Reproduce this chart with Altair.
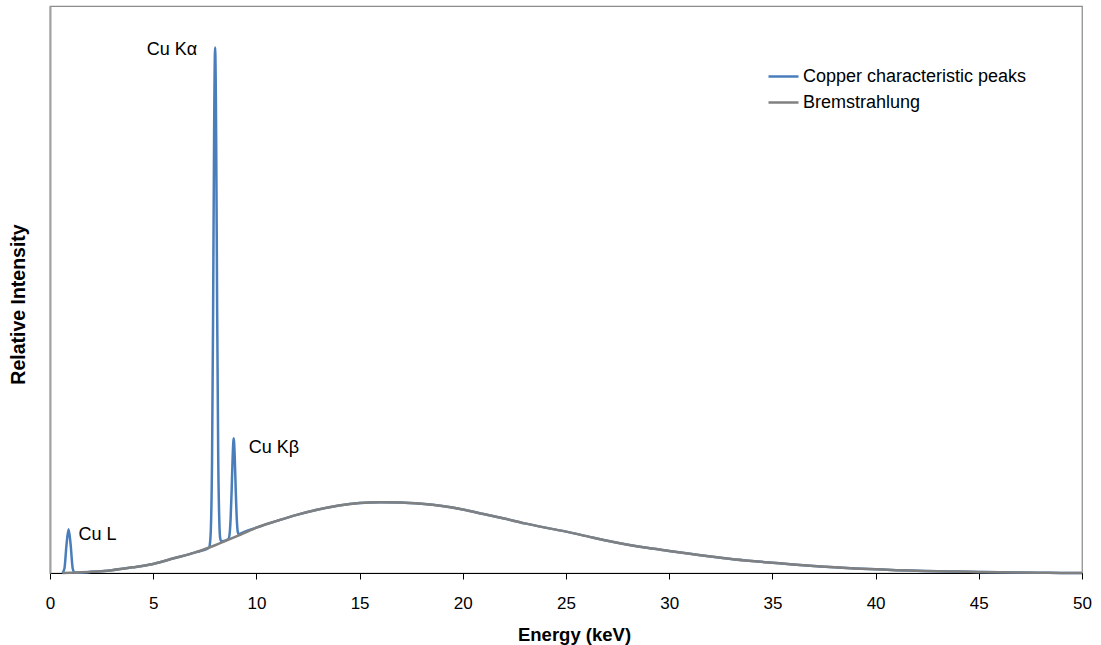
import altair as alt
import pandas as pd

# Bremsstrahlung continuum (energy keV, relative intensity)
brems_energy = [0.6, 1, 2, 3, 4, 5, 6, 7, 8, 9, 10, 11, 12, 13, 14, 15, 16, 17, 18, 19, 20,
                21, 22, 23, 24, 25, 26, 27, 28, 29, 30, 31, 32, 33, 34, 35, 36, 37, 38, 39, 40,
                41, 42, 43, 44, 45, 46, 47, 48, 49, 50]
brems_value = [0, 0.05, 0.2, 0.5, 1.0, 1.6, 2.6, 3.6, 4.9, 6.4, 8.0, 9.2, 10.3, 11.2, 11.9, 12.35,
               12.5, 12.45, 12.2, 11.8, 11.2, 10.4, 9.6, 8.75, 8.0, 7.3, 6.5, 5.7, 5.0, 4.4, 3.9,
               3.4, 2.9, 2.45, 2.1, 1.8, 1.5, 1.25, 1.0, 0.8, 0.65, 0.5, 0.4, 0.3, 0.25, 0.18,
               0.12, 0.08, 0.05, 0.02, 0]

# Copper characteristic peaks (total intensity, sitting on the continuum)
peak_energy = [0.6, 0.7, 0.8, 0.9, 1.0, 1.1, 1.2,
               7.70, 7.75, 7.80, 7.85, 7.90, 7.95, 8.00, 8.05, 8.10, 8.15, 8.20, 8.25, 8.30,
               8.60, 8.65, 8.70, 8.75, 8.80, 8.85, 8.90, 8.95, 9.00, 9.05, 9.10, 9.15, 9.20]
peak_value = [0, 0.8, 5.0, 7.7, 5.0, 0.8, 0.03,
              4.45, 5.2, 8.5, 19.5, 44.5, 77.0, 92.7, 77.5, 45.5, 20.5, 9.5, 6.0, 5.6,
              5.9, 6.0, 6.8, 9.5, 14.5, 20.5, 23.75, 20.5, 14.5, 9.5, 7.2, 6.8, 6.9]

# Annotations: label, anchor energy, anchor intensity
label_text = ["Cu L", "Cu K\u03b1", "Cu K\u03b2"]
label_energy = [0.9, 8.0, 8.9]
label_value = [7.7, 92.7, 23.75]

x_ticks = [0, 5, 10, 15, 20, 25, 30, 35, 40, 45, 50]

series_names = ["Copper characteristic peaks", "Bremstrahlung"]
series_colors = ["#4A7EBB", "#808080"]

# Build tables
peak_ranges = [(0.55, 1.25), (7.65, 8.35), (8.55, 9.25)]
blue_rows = [(e, v) for e, v in zip(peak_energy, peak_value)]
for e, v in zip(brems_energy, brems_value):
    if not any(lo <= e <= hi for lo, hi in peak_ranges):
        blue_rows.append((e, v))
blue_rows.sort()
df_blue = pd.DataFrame(blue_rows, columns=["energy", "value"])
df_blue["series"] = series_names[0]
df_gray = pd.DataFrame({"energy": brems_energy, "value": brems_value})
df_gray["series"] = series_names[1]
df = pd.concat([df_blue, df_gray], ignore_index=True)

font = "Liberation Sans"

x = alt.X("energy:Q", scale=alt.Scale(domain=[0, 50], nice=False),
          axis=alt.Axis(values=x_ticks, title="Energy (keV)", grid=False,
                        domainColor="#000000", domainWidth=1, tickColor="#000000",
                        tickSize=6, labelPadding=16, labelFontSize=17, labelFont=font,
                        labelColor="#000000", titleFont=font, titleFontSize=18.5,
                        titleFontWeight="bold", titleColor="#000000", titlePadding=14,
                        titleX=524, labelFlush=False))
y = alt.Y("value:Q", scale=alt.Scale(domain=[0, 100], nice=False),
          axis=alt.Axis(labels=False, ticks=False, grid=False, title="Relative Intensity",
                        domainColor="#A0A0A0", domainWidth=2, titleFont=font,
                        titleFontSize=19.5, titleFontWeight="bold", titleColor="#000000",
                        titlePadding=22, titleY=298))

lines = alt.Chart(df).mark_line(strokeWidth=2.5, interpolate="monotone").encode(
    x=x,
    y=y,
    color=alt.Color("series:N", scale=alt.Scale(domain=series_names, range=series_colors),
                    legend=alt.Legend(title=None, orient="none", legendX=717, legendY=54,
                                      symbolType="stroke", symbolSize=900,
                                      symbolStrokeWidth=2.5, labelFont=font,
                                      labelFontSize=18, labelColor="#000000",
                                      labelOffset=3, rowPadding=-3, labelLimit=0)),
    detail="series:N",
    order=alt.Order("energy:Q"),
)

df_lab = pd.DataFrame({"label": label_text, "energy": label_energy, "value": label_value})

lab_L = alt.Chart(df_lab.iloc[[0]]).mark_text(align="left", baseline="middle", dx=10, dy=6,
                                              font=font, fontSize=18, color="#000000").encode(
    x="energy:Q", y="value:Q", text="label:N")
lab_Ka = alt.Chart(df_lab.iloc[[1]]).mark_text(align="right", baseline="middle", dx=-18, dy=3,
                                               font=font, fontSize=18, color="#000000").encode(
    x="energy:Q", y="value:Q", text="label:N")
lab_Kb = alt.Chart(df_lab.iloc[[2]]).mark_text(align="left", baseline="middle", dx=15, dy=10,
                                               font=font, fontSize=18, color="#000000").encode(
    x="energy:Q", y="value:Q", text="label:N")

chart = alt.layer(lines, lab_L, lab_Ka, lab_Kb).properties(
    width=1032, height=567,
    autosize=alt.AutoSizeParams(type="none"),
    padding={"left": 50, "top": 6, "right": 19, "bottom": 72},
    background="#FFFFFF",
).configure_view(stroke="#8C8C8C", strokeWidth=1.25)

chart.save("out.html", embed_options={"renderer": "svg", "actions": False})
